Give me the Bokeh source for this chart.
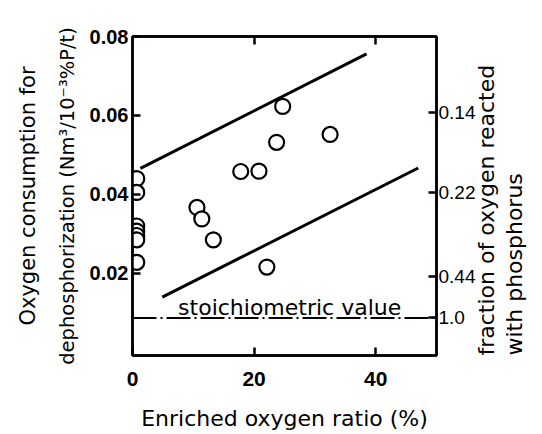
import math
from bokeh.plotting import figure
from bokeh.models import LinearAxis, FixedTicker, Range1d, Label
from bokeh.embed import file_html
from bokeh.resources import INLINE

# ---- data ----
x_at_zero = [0.7, 0.7, 0.7, 0.7, 0.7, 0.7, 0.7]
y_at_zero = [0.0440, 0.0405, 0.0320, 0.0307, 0.0296, 0.0285, 0.0228]
x_enriched = [17.8, 20.8, 10.6, 11.4, 13.3, 22.1, 24.7, 23.7, 32.5]
y_enriched = [0.0458, 0.0459, 0.0367, 0.0338, 0.0285, 0.0216, 0.0623, 0.0532, 0.0552]

upper_x = [1.3, 38.5]
upper_y = [0.0466, 0.0756]
lower_x = [4.9, 47.0]
lower_y = [0.0140, 0.0467]

stoich_x = [0, 50]
stoich_y = [0.0087, 0.0087]

left_ticks = [0.02, 0.04, 0.06, 0.08]
left_labels = ["0.02", "0.04", "0.06", "0.08"]
bottom_ticks = [0, 20, 40]
bottom_labels = ["0", "20", "40"]
right_ticks = [0.0607, 0.0405, 0.0191, 0.0089]
right_labels = ["0.14", "0.22", "0.44", "1.0"]

TITLE_FONT = "DejaVu Sans"
TICK_FONT = "Liberation Sans"

p = figure(width=542, height=434, output_backend="svg", toolbar_location=None,
           x_range=Range1d(0, 50), y_range=Range1d(-0.0008, 0.08),
           x_axis_location=None, y_axis_location=None,
           min_border_left=132, min_border_right=104, min_border_top=36,
           min_border_bottom=79)
p.grid.visible = False
p.background_fill_color = "white"
p.border_fill_color = "white"
p.outline_line_color = "black"
p.outline_line_width = 2.5


def style_axis(ax, ticks, labels, font, size, bold):
    ax.ticker = FixedTicker(ticks=ticks)
    ax.major_label_overrides = {t: l for t, l in zip(ticks, labels)}
    ax.minor_tick_line_color = None
    ax.major_tick_in = 8
    ax.major_tick_out = 0
    ax.major_tick_line_width = 2.5
    ax.axis_line_width = 2.5
    ax.major_label_text_font = font
    ax.major_label_text_font_size = size
    ax.major_label_text_font_style = "bold" if bold else "normal"
    ax.major_label_text_color = "black"


def style_title(ax, text, size, standoff):
    ax.axis_label = text
    ax.axis_label_text_font = TITLE_FONT
    ax.axis_label_text_font_size = size
    ax.axis_label_text_font_style = "normal"
    ax.axis_label_text_color = "black"
    ax.axis_label_standoff = standoff


def title_only_axis(text, size, standoff):
    ax = LinearAxis()
    ax.ticker = FixedTicker(ticks=[])
    ax.axis_line_color = None
    ax.major_tick_line_color = None
    ax.minor_tick_line_color = None
    ax.major_label_text_font_size = "0px"
    style_title(ax, text, size, standoff)
    return ax


left = LinearAxis()
style_axis(left, left_ticks, left_labels, TICK_FONT, "20px", True)
left.major_label_standoff = 4
style_title(left, "dephosphorization (Nm³/10⁻³%P/t)", "19.5px", 8)
p.add_layout(left, "left")
p.add_layout(title_only_axis("Oxygen consumption for", "21px", 13), "left")

bottom = LinearAxis()
style_axis(bottom, bottom_ticks, bottom_labels, TICK_FONT, "21px", True)
bottom.major_label_standoff = 16
style_title(bottom, "Enriched oxygen ratio (%)", "22px", 17)
p.add_layout(bottom, "below")

top = LinearAxis()
style_axis(top, [20, 40], ["", ""], TICK_FONT, "0px", False)
p.add_layout(top, "above")

right = LinearAxis()
style_axis(right, right_ticks, right_labels, TICK_FONT, "19px", False)
right.major_label_standoff = 2
style_title(right, "fraction of oxygen reacted", "22px", 8)
right2 = title_only_axis("with phosphorus", "22px", 0)
for ax in (right, right2):
    props = ax.properties()
    if "axis_label_orientation" in props:
        ax.axis_label_orientation = math.pi / 2
    if "axis_label_align" in props:
        ax.axis_label_align = "start"
    ax.axis_label_text_align = "left"
    ax.axis_label_text_baseline = "middle"
p.add_layout(right, "right")
p.add_layout(right2, "right")

# lines
p.line(upper_x, upper_y, line_color="black", line_width=3)
p.line(lower_x, lower_y, line_color="black", line_width=3)
p.line(stoich_x, stoich_y, line_color="black", line_width=2, line_dash="24 4 2 4")

# points
p.scatter(x_at_zero, y_at_zero, marker="circle", size=15, fill_color="white",
          line_color="black", line_width=2.2)
p.scatter(x_enriched, y_enriched, marker="circle", size=15, fill_color="white",
          line_color="black", line_width=2.2)

# stoichiometric text
p.add_layout(Label(x=7.5, y=0.0082, text="stoichiometric value",
                   text_font=TITLE_FONT, text_font_size="22px",
                   text_align="left", text_baseline="bottom", text_color="black"))

open("out.html", "w").write(file_html(p, INLINE))
